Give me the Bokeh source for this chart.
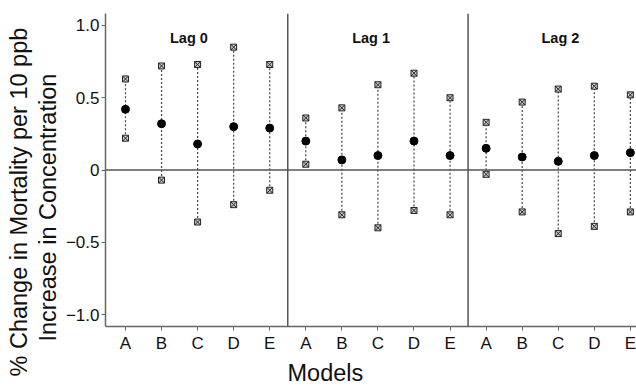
from bokeh.plotting import figure
from bokeh.models import Span, Title, FixedTicker, ColumnDataSource, Range1d
from bokeh.core.properties import value
from bokeh.embed import file_html
from bokeh.resources import INLINE

models = ["A", "B", "C", "D", "E"]
lags = ["Lag 0", "Lag 1", "Lag 2"]

est_lag0 = [0.42, 0.32, 0.18, 0.30, 0.29]
low_lag0 = [0.22, -0.07, -0.36, -0.24, -0.14]
up_lag0 = [0.63, 0.72, 0.73, 0.85, 0.73]

est_lag1 = [0.20, 0.07, 0.10, 0.20, 0.10]
low_lag1 = [0.04, -0.31, -0.40, -0.28, -0.31]
up_lag1 = [0.36, 0.43, 0.59, 0.67, 0.50]

est_lag2 = [0.15, 0.09, 0.06, 0.10, 0.12]
low_lag2 = [-0.03, -0.29, -0.44, -0.39, -0.29]
up_lag2 = [0.33, 0.47, 0.56, 0.58, 0.52]

y_ticks = [-1.0, -0.5, 0.0, 0.5, 1.0]
y_tick_labels = ["\u22121.0", "\u22120.5", "0", "0.5", "1.0"]

FONT = "Liberation Sans"

est = est_lag0 + est_lag1 + est_lag2
low = low_lag0 + low_lag1 + low_lag2
up = up_lag0 + up_lag1 + up_lag2
xs = list(range(len(est)))
src = ColumnDataSource(dict(x=xs, est=est, low=low, up=up))

p = figure(width=636, height=387, output_backend="svg", toolbar_location=None,
           x_range=Range1d(-0.554, 14.17), y_range=Range1d(-1.083, 1.083),
           min_border_left=105, min_border_right=0, min_border_top=13, min_border_bottom=60)
p.outline_line_color = None
p.xgrid.visible = False
p.ygrid.visible = False

# axes
for ax in (p.xaxis[0], p.yaxis[0]):
    ax.axis_line_color = "#666666"
    ax.axis_line_width = 1.5
    ax.major_tick_line_color = "#666666"
    ax.major_tick_line_width = 1
    ax.major_tick_out = 4
    ax.major_tick_in = 0
    ax.minor_tick_line_color = None
    ax.major_label_text_font = FONT
    ax.major_label_text_color = "#111111"

p.xaxis.ticker = FixedTicker(ticks=xs)
p.xaxis.major_label_overrides = {i: models[i % len(models)] for i in xs}
p.xaxis.major_label_text_font_size = "17px"
p.xaxis.major_label_standoff = 3

p.yaxis.ticker = FixedTicker(ticks=y_ticks)
p.yaxis.major_label_overrides = {t: l for t, l in zip(y_ticks, y_tick_labels)}
p.yaxis.major_label_text_font_size = "17px"
p.yaxis.major_label_standoff = 2

# reference lines
p.add_layout(Span(location=0, dimension="width", line_color="#555555", line_width=1.5))
for k in range(1, len(lags)):
    p.add_layout(Span(location=k * len(models) - 0.5, dimension="height",
                      line_color="#555555", line_width=1.5))

# intervals
p.segment(x0="x", y0="low", x1="x", y1="up", source=src,
          line_color="#444444", line_width=1.2, line_dash="2 2")
p.scatter(x="x", y="up", source=src, marker="square_x", size=6,
          line_color="#222222", fill_color="#cccccc", line_width=1)
p.scatter(x="x", y="low", source=src, marker="square_x", size=6,
          line_color="#222222", fill_color="#cccccc", line_width=1)
p.scatter(x="x", y="est", source=src, marker="circle", size=8,
          line_color="black", fill_color="black")

# panel labels
lag_x = [1.76, 6.81, 12.06]
p.text(x=lag_x, y=[0.915] * 3, text=lags, text_font=value(FONT),
       text_font_style="bold", text_font_size="14.5px", text_align="center",
       text_baseline="alphabetic", text_color="#111111")

# axis titles
t2 = Title(text="Increase in Concentration", align="left", offset=-15,
           text_font=FONT, text_font_size="23.5px", text_font_style="normal",
           text_color="#111111", standoff=3)
t1 = Title(text="% Change in Mortality per 10 ppb", align="left", offset=-50,
           text_font=FONT, text_font_size="23.5px", text_font_style="normal",
           text_color="#111111", standoff=0)
p.add_layout(t2, "left")
p.add_layout(t1, "left")
tm = Title(text="Models", align="left", offset=182,
           text_font=FONT, text_font_size="23.5px", text_font_style="normal",
           text_color="#111111", standoff=4)
p.add_layout(tm, "below")

open("out.html", "w").write(file_html(p, INLINE))
